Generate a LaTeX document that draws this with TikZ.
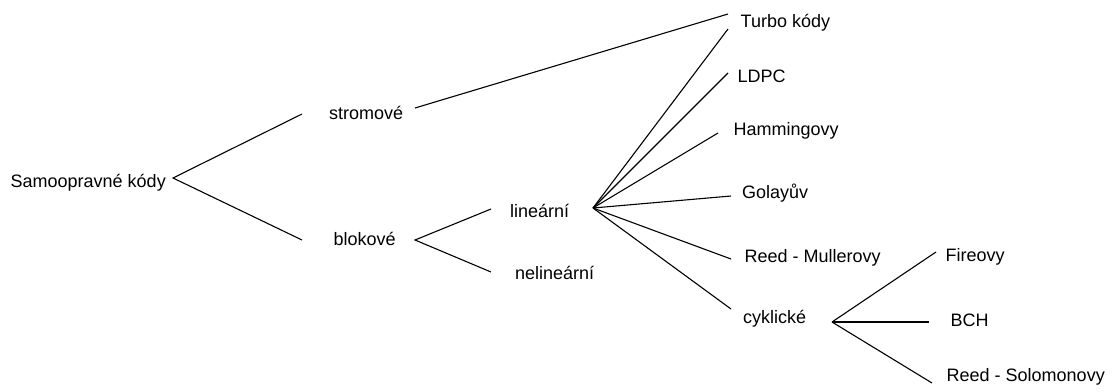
\documentclass[tikz,border=0pt]{standalone}
\usepackage{fontspec}
\setmainfont{Liberation Sans}
\begin{document}
\begin{tikzpicture}[x=1pt,y=-1pt,
  lbl/.style={anchor=base west,inner sep=0pt,font=\fontsize{18}{21}\selectfont},
  edge/.style={line width=1.1pt}]
\useasboundingbox (0,0) rectangle (1114,391);
% labels (placed by baseline)
\node[lbl] (root) at (10.5,187) {Samoopravné kódy};
\node[lbl] (strom) at (329,119) {stromové};
\node[lbl] (blok) at (333.5,245) {blokové};
\node[lbl] (lin) at (510,217) {lineární};
\node[lbl] (nelin) at (515,279.5) {nelineární};
\node[lbl] (turbo) at (740.5,27) {Turbo kódy};
\node[lbl] (ldpc) at (737.5,82.5) {LDPC};
\node[lbl] (ham) at (733.5,135) {Hammingovy};
\node[lbl] (golay) at (742,198.3) {Golayův};
\node[lbl] (rm) at (744.5,262.3) {Reed - Mullerovy};
\node[lbl] (cyk) at (743,323.3) {cyklické};
\node[lbl] (fire) at (945.5,261.7) {Fireovy};
\node[lbl] (bch) at (950.3,326.7) {BCH};
\node[lbl] (rs) at (946.5,381.7) {Reed - Solomonovy};
% branch points and line ends
\coordinate (rootR) at (173,178);
\coordinate (stromL) at (302,114);
\coordinate (blokL) at (302,240);
\coordinate (stromR) at (415,108);
\coordinate (turboL1) at (728,14);
\coordinate (blokR) at (415,240);
\coordinate (linL) at (491,209);
\coordinate (nelinL) at (491,272);
\coordinate (linR) at (593,208);
\coordinate (turboL2) at (728,29);
\coordinate (ldpcL) at (728,73);
\coordinate (hamL) at (718,133);
\coordinate (golayL) at (731,196);
\coordinate (rmL) at (731,259);
\coordinate (cykL) at (731,309);
\coordinate (cykR) at (832,322);
\coordinate (fireL) at (936,252);
\coordinate (bchL) at (929,322);
\coordinate (rsL) at (932,383);
% connectors
\draw[edge] (stromL) -- (rootR) -- (blokL);
\draw[edge] (stromR) -- (turboL1);
\draw[edge] (linL) -- (blokR) -- (nelinL);
\foreach \t in {turboL2,ldpcL,hamL,golayL,rmL,cykL}
  \draw[edge] (linR) -- (\t);
\foreach \t in {fireL,bchL,rsL}
  \draw[edge] (cykR) -- (\t);
\end{tikzpicture}
\end{document}
